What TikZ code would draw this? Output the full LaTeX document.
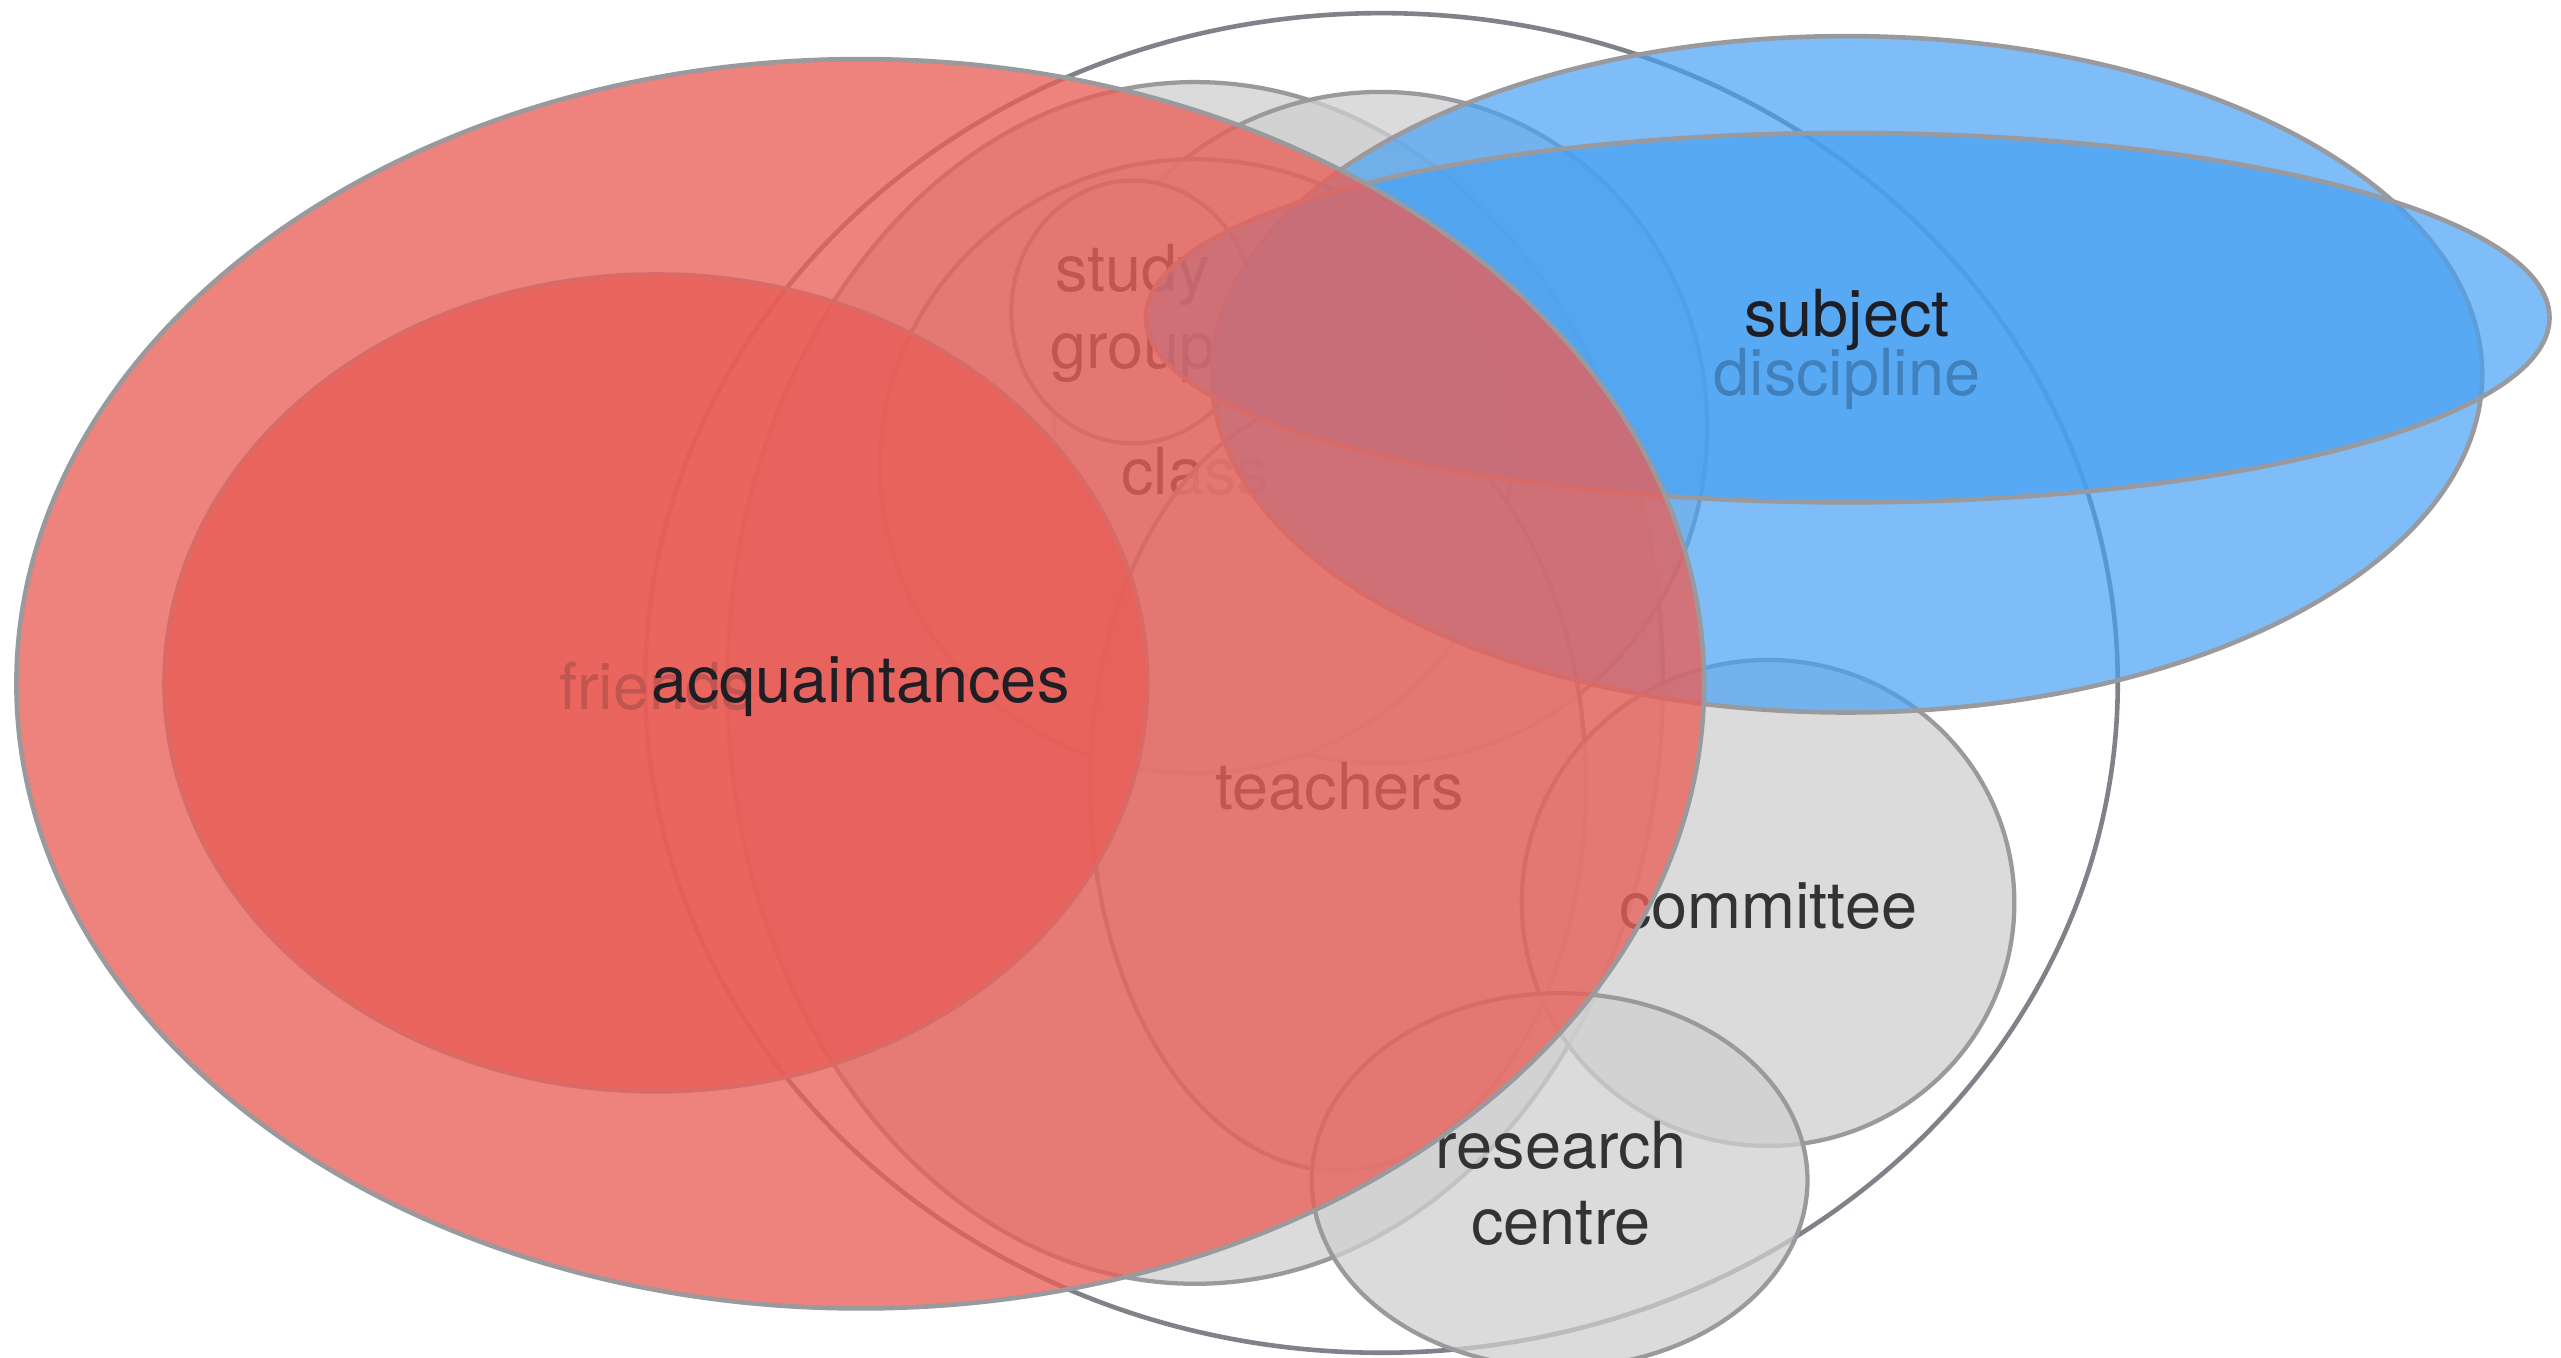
\documentclass[tikz,border=0pt]{standalone}
\usepackage{fontspec}
\setmainfont{TeX Gyre Heros}
\definecolor{redfill}{HTML}{EA5F58}
\definecolor{frfill}{HTML}{E85A54}
\definecolor{bluefill}{HTML}{48A1F4}
\definecolor{greyfill}{HTML}{D0D0D0}
\definecolor{greyline}{HTML}{9A9A9E}
\definecolor{outerline}{HTML}{7F8288}
\definecolor{labelc}{HTML}{333333}
\definecolor{toplabel}{HTML}{1E1E24}
\begin{document}
\begin{tikzpicture}[x=1pt,y=-1pt,
  greyset/.style={fill=greyfill, fill opacity=0.75, draw=greyline, line width=2.6pt},
  blueset/.style={fill=bluefill, fill opacity=0.7, draw=greyline, line width=2.8pt},
  redset/.style={fill=redfill, fill opacity=0.78, draw=greyline, line width=2.8pt},
  frset/.style={fill=frfill, fill opacity=0.8, draw=greyline, line width=2.4pt},
  outerset/.style={draw=outerline, line width=2.8pt},
  lab/.style={text=labelc, font=\fontsize{39.5}{46.5}\selectfont, align=center, inner sep=0pt},
  toplab/.style={lab, text=toplabel}]
\useasboundingbox (0,0) rectangle (1560,827.2);
\fill[white] (0,0) rectangle (1560,827.2);
% outer thin ellipse
\draw[outerset] (841.5,416) ellipse [x radius=448.5, y radius=408];
% grey sets
\draw[greyset] (728,416) ellipse [x radius=285, y radius=366];
\draw[greyset] (841,260.5) ellipse [x radius=199, y radius=204.5];
\draw[greyset] (728,284) ellipse [x radius=192, y radius=187];
\node[lab] (class) at (728,287) {class};
\draw[greyset] (690,190) ellipse [x radius=74, y radius=80];
\node[lab] (study) at (690,191) {study\\group};
\draw[greyset] (815,478) ellipse [x radius=151, y radius=235];
\node[lab] (teachers) at (816,479) {teachers};
\draw[greyset] (1077,550) ellipse [x radius=150, y radius=148];
\node[lab] (committee) at (1077,552) {committee};
\draw[greyset] (950,719) ellipse [x radius=151, y radius=114];
\node[lab] (research) at (951,721) {research\\centre};
% blue sets
\draw[blueset] (1125,228) ellipse [x radius=387, y radius=206];
\node[lab] (discipline) at (1125,231) {discipline};
\draw[blueset] (1125.5,193.5) ellipse [x radius=427.5, y radius=112.5];
\node[toplab] (subject) at (1125,195) {subject};
% red sets
\draw[frset] (399.5,416) ellipse [x radius=299.5, y radius=249];
\node[lab] (friends) at (400,418) {friends};
\draw[redset] (524,416.5) ellipse [x radius=514, y radius=380.5];
\node[toplab] (acq) at (524,418) {acquaintances};
\end{tikzpicture}
\end{document}
